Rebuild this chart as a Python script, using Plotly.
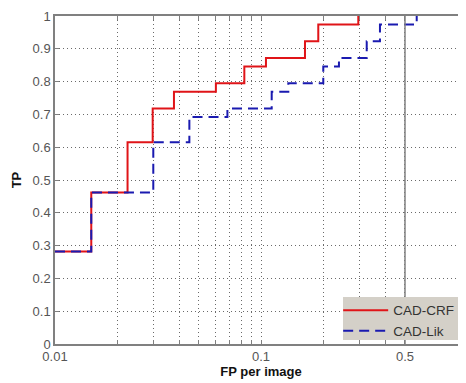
import plotly.graph_objects as go

# Data
crf_fp = [0.01, 0.015, 0.0225, 0.0298, 0.0378, 0.0604, 0.083, 0.1057, 0.1635, 0.1897, 0.2967]
crf_tp = [0.282, 0.462, 0.615, 0.718, 0.769, 0.795, 0.846, 0.872, 0.923, 0.974, 1.0]

lik_fp = [0.01, 0.015, 0.0300, 0.0449, 0.0687, 0.1127, 0.1357, 0.2006, 0.239, 0.326, 0.378, 0.570]
lik_tp = [0.282, 0.462, 0.615, 0.692, 0.718, 0.769, 0.795, 0.846, 0.872, 0.923, 0.974, 1.0]

x_grid = [0.01, 0.02, 0.03, 0.04, 0.05, 0.06, 0.07, 0.08, 0.09, 0.1, 0.2, 0.3, 0.4, 0.5, 1]
x_labels = ["0.01", "", "", "", "", "", "", "", "", "0.1", "", "", "", "0.5", "1"]
y_ticks = [0, 0.1, 0.2, 0.3, 0.4, 0.5, 0.6, 0.7, 0.8, 0.9, 1]
y_labels = ["0", "0.1", "0.2", "0.3", "0.4", "0.5", "0.6", "0.7", "0.8", "0.9", "1"]

fig = go.Figure()
fig.add_trace(go.Scatter(x=crf_fp, y=crf_tp, mode="lines", line_shape="hv",
                         name="CAD-CRF", line=dict(color="#e01418", width=2)))
fig.add_trace(go.Scatter(x=lik_fp, y=lik_tp, mode="lines", line_shape="hv",
                         name="CAD-Lik", line=dict(color="#1a1ab0", width=2, dash="10px,6px")))

fig.add_shape(type="line", xref="x", yref="paper", x0=0.5, x1=0.5, y0=0, y1=1,
              line=dict(color="#808080", width=1.5), layer="above")
# legend box background
fig.add_shape(type="rect", xref="paper", yref="paper", x0=0.699, x1=0.988, y0=0.012, y1=0.143,
              fillcolor="#d4d0c8", line=dict(width=0), layer="above")

axis_font = dict(family="Liberation Sans, Arial", size=13, color="#555")
grid_dash = "1px,3px"

fig.update_layout(
    width=466, height=383,
    margin=dict(l=47, r=7, t=8, b=47),
    paper_bgcolor="white", plot_bgcolor="white",
    showlegend=True,
    legend=dict(x=0.981, y=-0.009, xanchor="right", yanchor="bottom",
                bgcolor="rgba(0,0,0,0)", borderwidth=0, itemwidth=45,
                font=dict(family="Liberation Sans, Arial", size=13.5, color="#333"),
                tracegroupgap=0),
    xaxis=dict(type="log", range=[-2, 0], automargin=False,
               tickvals=x_grid, ticktext=x_labels,
               showgrid=True, gridcolor="#6a6a6a", griddash=grid_dash, gridwidth=1,
               ticks="inside", ticklen=4, tickcolor="#808080",
               showline=True, linecolor="#808080", linewidth=1.5, mirror="ticks",
               tickfont=axis_font, zeroline=False,
               title=dict(text="<b>FP per image</b>", standoff=4,
                          font=dict(family="Liberation Sans, Arial", size=13, color="#111"))),
    yaxis=dict(range=[0, 1], tickvals=y_ticks, ticktext=y_labels, automargin=False,
               showgrid=True, gridcolor="#6a6a6a", griddash=grid_dash, gridwidth=1,
               ticks="inside", ticklen=4, tickcolor="#808080",
               showline=True, linecolor="#808080", linewidth=1.5,
               tickfont=axis_font, zeroline=False,
               title=dict(text="<b>TP</b>", standoff=8,
                          font=dict(family="Liberation Sans, Arial", size=13, color="#111"))),
)

fig.write_html("out.html")
